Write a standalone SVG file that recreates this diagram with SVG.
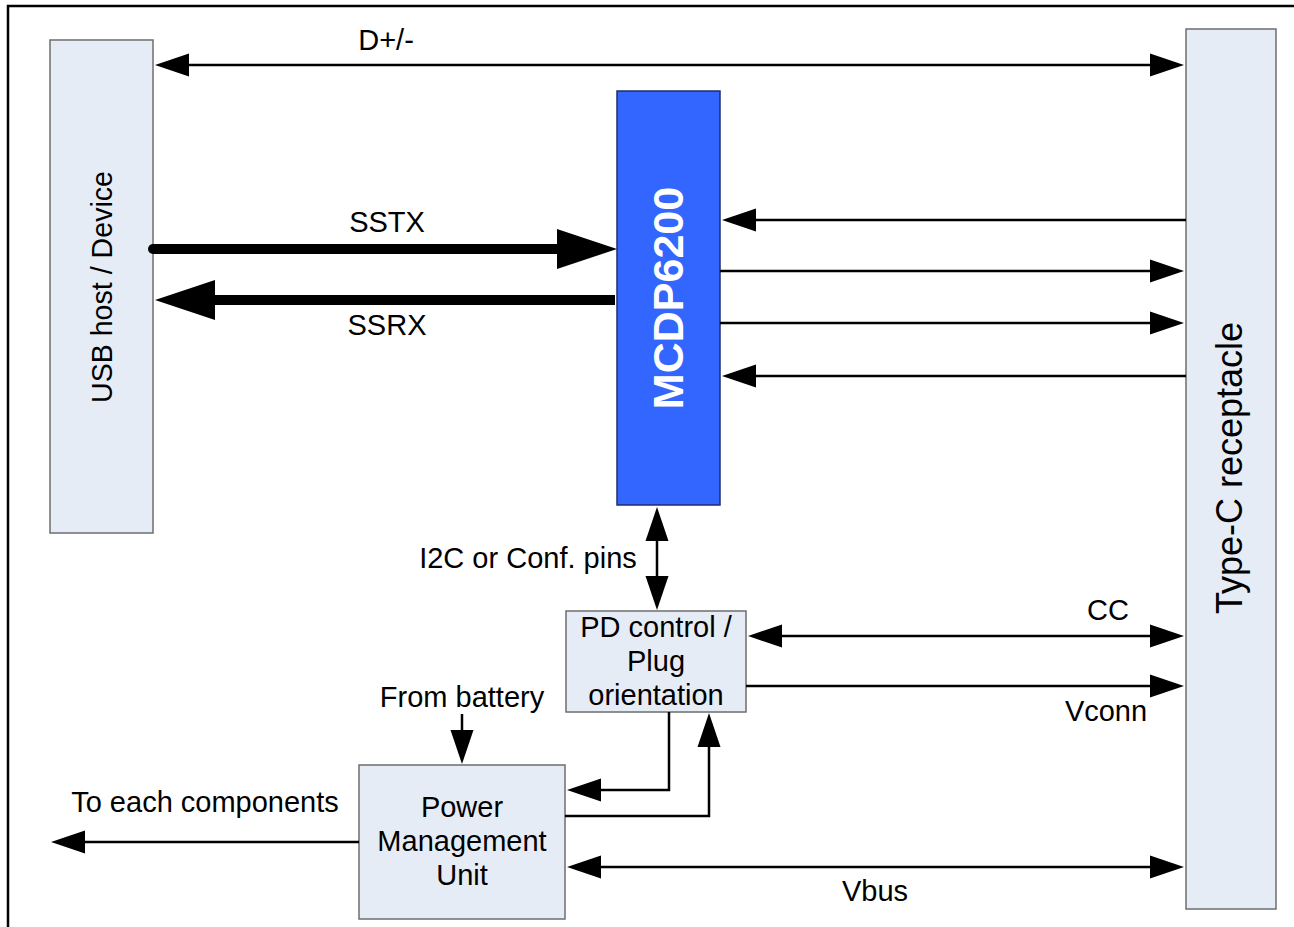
<svg xmlns="http://www.w3.org/2000/svg" width="1294" height="927" viewBox="0 0 1294 927">
<style>
.box{fill:#E6ECF6;stroke:#6E6E6E;stroke-width:1.5}
.chip{fill:#3366FF;stroke:#1F2D6E;stroke-width:1.5}
.t{font-family:"Liberation Sans",Arial,sans-serif;font-size:29px;fill:#000;text-anchor:middle}
.w{stroke:#000;stroke-width:2.5;fill:none}
.thick{stroke:#000;stroke-width:10;fill:none}
</style>
<defs>
<marker id="ah" markerUnits="userSpaceOnUse" viewBox="0 -12 34 24" markerWidth="34" markerHeight="24" refX="0" refY="0" orient="auto-start-reverse" overflow="visible">
<path d="M0,-11.5 L34,0 L0,11.5 z" fill="#000"/>
</marker>
<marker id="bh" markerUnits="userSpaceOnUse" viewBox="0 -20 60 40" markerWidth="60" markerHeight="40" refX="0" refY="0" orient="auto" overflow="visible">
<path d="M0,-20 L60,0 L0,20 z" fill="#000"/>
</marker>
</defs>
<g id="frame">
<path d="M8,927 V6 H1294" stroke="#000" stroke-width="2.5" fill="none"/>
</g>
<g id="usb">
<rect class="box" x="50" y="40" width="103" height="493"/>
<text class="t" style="font-size:28.6px" transform="translate(112,287) rotate(-90)">USB host / Device</text>
</g>
<g id="typec">
<rect class="box" x="1186" y="29" width="90" height="880"/>
<text class="t" style="font-size:36px" transform="translate(1242,468) rotate(-90)">Type-C receptacle</text>
</g>
<g id="mcdp">
<rect class="chip" x="617" y="91" width="103" height="414"/>
<text class="t" style="font-size:43px;font-weight:bold;fill:#fff" transform="translate(683,298) rotate(-90)">MCDP6200</text>
</g>
<g id="pd">
<rect class="box" x="566" y="611" width="180" height="101"/>
<text class="t" x="656" y="637">PD control /</text>
<text class="t" x="656" y="671">Plug</text>
<text class="t" x="656" y="705">orientation</text>
</g>
<g id="pmu">
<rect class="box" x="359" y="765" width="206" height="154"/>
<text class="t" x="462" y="817">Power</text>
<text class="t" x="462" y="851">Management</text>
<text class="t" x="462" y="885">Unit</text>
</g>
<g id="connectors">
<path class="w" d="M189,65 H1150" marker-start="url(#ah)" marker-end="url(#ah)"/>
<path class="thick" d="M153,249 H557" stroke-linecap="round" marker-end="url(#bh)"/>
<path class="thick" d="M615,300 H215" marker-end="url(#bh)"/>
<path class="w" d="M1186,220 H756" marker-end="url(#ah)"/>
<path class="w" d="M720,271 H1150" marker-end="url(#ah)"/>
<path class="w" d="M720,323 H1150" marker-end="url(#ah)"/>
<path class="w" d="M1186,376 H756" marker-end="url(#ah)"/>
<path class="w" d="M657,541 V576" marker-start="url(#ah)" marker-end="url(#ah)"/>
<path class="w" d="M782,636 H1150" marker-start="url(#ah)" marker-end="url(#ah)"/>
<path class="w" d="M746,686 H1150" marker-end="url(#ah)"/>
<path class="w" d="M462,714 V730" marker-end="url(#ah)"/>
<path class="w" d="M669,712 V790 H601" marker-end="url(#ah)"/>
<path class="w" d="M565,816 H709 V747" marker-end="url(#ah)"/>
<path class="w" d="M359,842 H85" marker-end="url(#ah)"/>
<path class="w" d="M601,867 H1150" marker-start="url(#ah)" marker-end="url(#ah)"/>
<text class="t" x="386" y="50">D+/-</text>
<text class="t" x="387" y="232">SSTX</text>
<text class="t" x="387" y="335">SSRX</text>
<text class="t" x="528" y="568">I2C or Conf. pins</text>
<text class="t" x="1108" y="620">CC</text>
<text class="t" x="1106" y="721">Vconn</text>
<text class="t" x="462" y="707">From battery</text>
<text class="t" x="205" y="812">To each components</text>
<text class="t" x="875" y="901">Vbus</text>
</g>
</svg>
